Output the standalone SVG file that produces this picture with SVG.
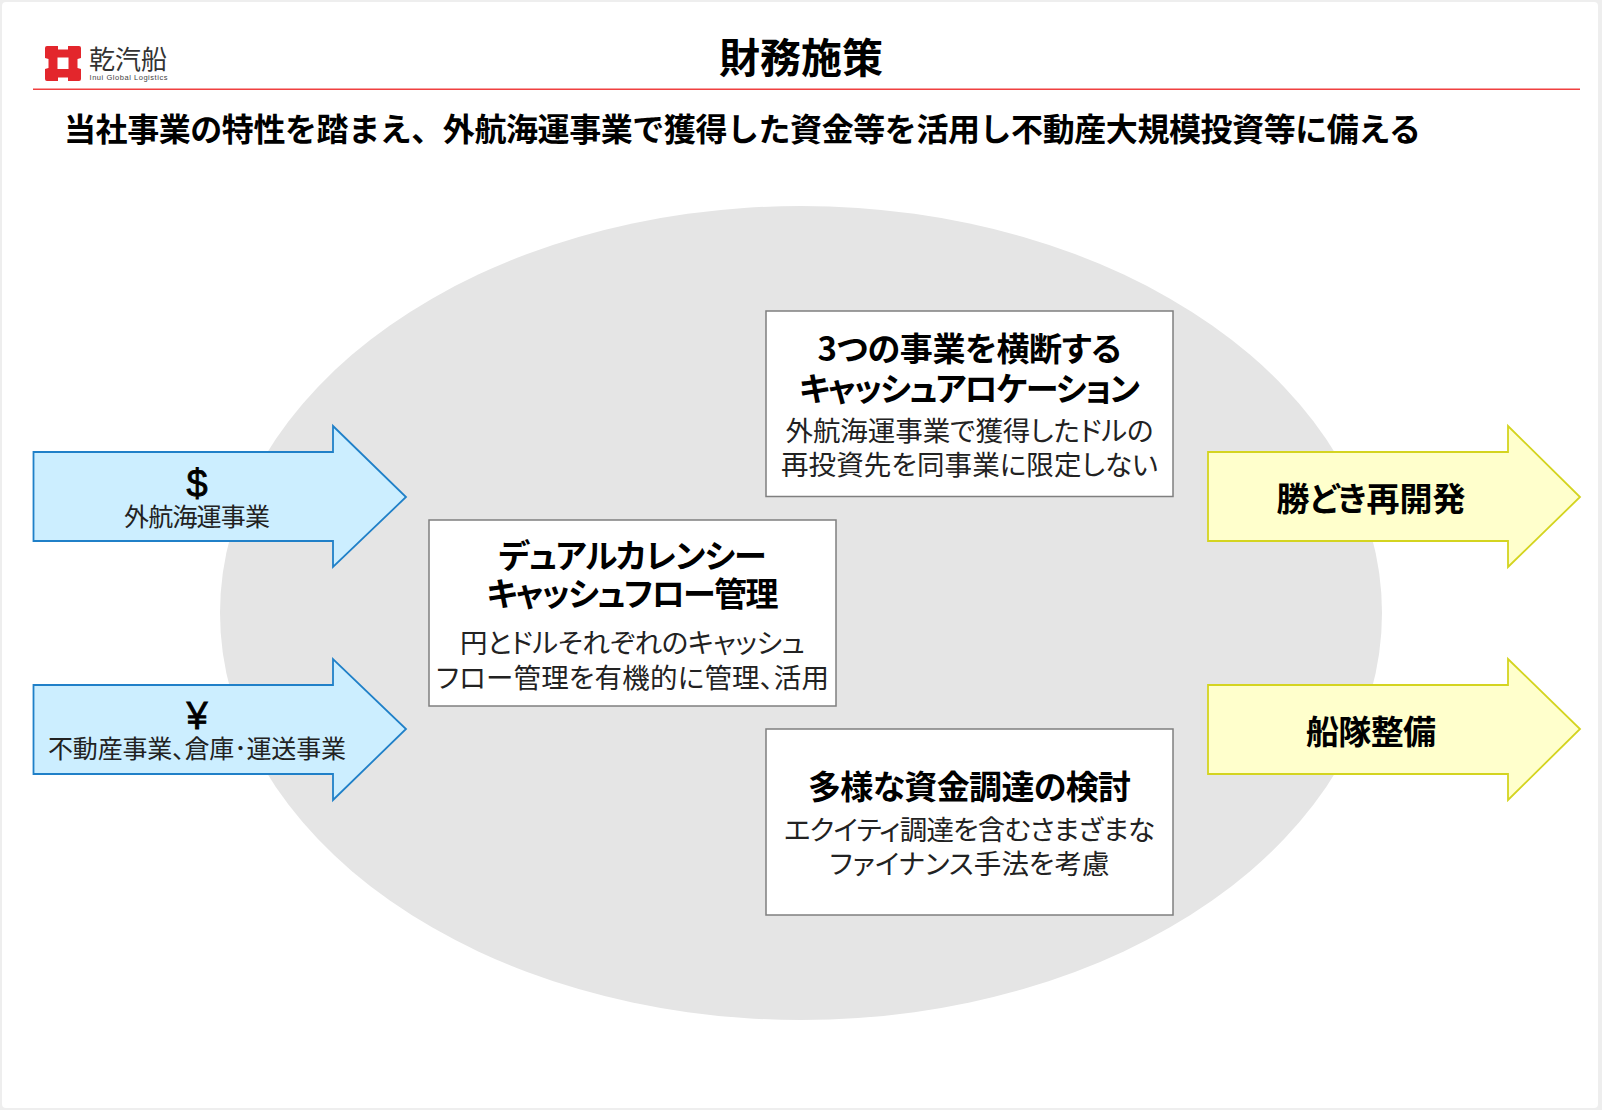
<svg xmlns="http://www.w3.org/2000/svg" width="1602" height="1110" viewBox="0 0 1602 1110">
<style>
text{font-family:"Noto Sans CJK JP","Liberation Sans",sans-serif;fill:#000;text-anchor:middle}
.h{font-weight:700;font-size:33px;font-feature-settings:"palt"}
.b{font-size:27.500px;fill:#222;font-feature-settings:"palt"}
.a{font-size:25px;fill:#222;font-feature-settings:"palt"}
.sym{font-family:"Liberation Sans",sans-serif;font-size:38px;stroke:#000;stroke-width:.8px}
.box{fill:#fff;stroke:#7f7f7f;stroke-width:1.5}
.blue{fill:#cceeff;stroke:#2080c8;stroke-width:1.800}
.yel{fill:#ffffcc;stroke:#d4d420;stroke-width:1.800}
</style>
<rect x="0" y="0" width="1602" height="1110" fill="#eeeeee"/>
<rect x="2" y="2" width="1596" height="1106" rx="4" fill="#fff"/>
<g id="logo">
<path d="M47 46H58V49.500H68V46H79Q81 46 81 48V58L77.500 59V68L81 69V79Q81 81 79 81H68V77.500H58V81H47Q45 81 45 79V69L48.500 68V59L45 58V48Q45 46 47 46ZM57.500 57.500V69H68.500V57.500Z" fill="#e3262c" fill-rule="evenodd"/>
<text x="128" y="69" font-size="26" style="fill:#333">乾汽船</text>
<text x="128.500" y="79.500" font-size="7.500" textLength="78" style="fill:#444;font-family:'Liberation Sans',sans-serif">Inui Global Logistics</text>
</g>
<rect x="33" y="88.500" width="1547" height="1.500" fill="#f04040"/>
<g id="title"><text x="801" y="73" font-size="41" font-weight="700">財務施策</text></g>
<g id="subtitle"><text x="64" y="141" font-size="32" font-weight="700" textLength="1357" style="text-anchor:start">当社事業の特性を踏まえ、外航海運事業で獲得した資金等を活用し不動産大規模投資等に備える</text></g>
<ellipse id="bg" cx="801" cy="613" rx="581" ry="407" fill="#e5e5e5"/>
<g id="arrow-usd"><path class="blue" d="M33.500 452H333V426L406 497L333 567V541H33.500Z"/>
<text class="sym" x="197" y="497">$</text><text class="a" x="197" y="526" textLength="146">外航海運事業</text></g>
<g id="arrow-jpy"><path class="blue" d="M33.500 685H333V659L406 729L333 800V774H33.500Z"/>
<text class="sym" x="197" y="729">¥</text><text class="a" x="197" y="758" textLength="298">不動産事業、倉庫･運送事業</text></g>
<g id="arrow-redev"><path class="yel" d="M1208 452H1508V426L1580 497L1508 567V541H1208Z"/>
<text class="h" x="1371" y="511">勝どき再開発</text></g>
<g id="arrow-fleet"><path class="yel" d="M1208 685H1508V659L1580 729L1508 800V774H1208Z"/>
<text class="h" x="1371" y="744" textLength="130">船隊整備</text></g>
<g id="box-alloc"><rect class="box" x="766" y="311" width="407" height="185.500"/>
<text class="h" x="969.500" y="361" textLength="304">3つの事業を横断する</text><text class="h" x="969.500" y="401" textLength="341">キャッシュアロケーション</text>
<text class="b" x="969.500" y="441" textLength="368">外航海運事業で獲得したドルの</text><text class="b" x="969.500" y="475" textLength="377">再投資先を同事業に限定しない</text></g>
<g id="box-dual"><rect class="box" x="429" y="520" width="407" height="186"/>
<text class="h" x="632.500" y="568" textLength="268">デュアルカレンシー</text><text class="h" x="632.500" y="606" textLength="292">キャッシュフロー管理</text>
<text class="b" x="632.500" y="653" textLength="345">円とドルそれぞれのキャッシュ</text><text class="b" x="632.500" y="688" textLength="393">フロー管理を有機的に管理、活用</text></g>
<g id="box-finance"><rect class="box" x="766" y="729" width="407" height="186"/>
<text class="h" x="969.500" y="799" textLength="323">多様な資金調達の検討</text>
<text class="b" x="969.500" y="840" textLength="371">エクイティ調達を含むさまざまな</text><text class="b" x="969.500" y="874" textLength="280">ファイナンス手法を考慮</text></g>
</svg>
